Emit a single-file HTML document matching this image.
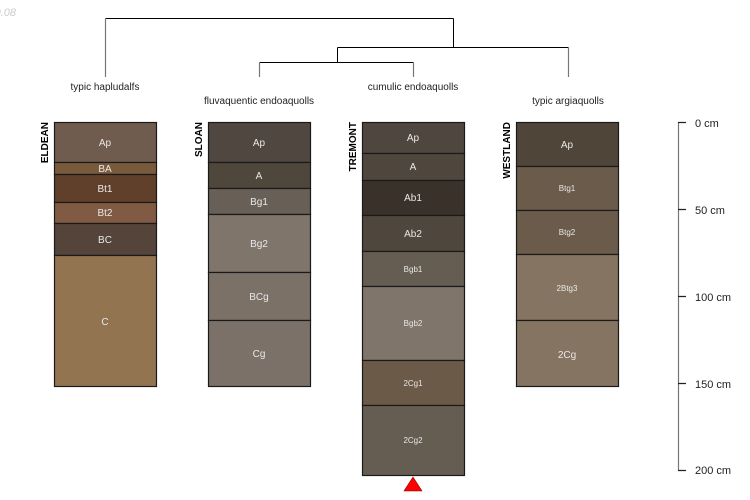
<!DOCTYPE html>
<html><head><meta charset="utf-8"><style>
html,body{margin:0;padding:0;background:#fff;}
svg{display:block;font-family:"Liberation Sans",sans-serif;}
</style></head><body>
<svg width="750" height="500" viewBox="0 0 750 500" xmlns="http://www.w3.org/2000/svg">
<text x="16" y="16" text-anchor="end" font-size="11" font-style="italic" fill="#ccc">0.08</text>
<!-- dendrogram -->
<g stroke="#000" stroke-width="1" fill="none">
<path d="M105.5 18.5H453.5"/><path d="M337.5 47.5H568.5"/><path d="M259.5 62.5H413.5"/>
<path d="M453.5 18.5V47.5"/><path d="M337.5 47.5V62.5"/>
</g>
<g stroke="#777" stroke-width="1.2" fill="none">
<path d="M105.5 18.5V77"/><path d="M568.5 47.5V77"/><path d="M259.5 62.5V77"/><path d="M413.5 62.5V77"/>
</g>
<g font-size="10" fill="#222" text-anchor="middle">
<text x="105" y="90">typic hapludalfs</text>
<text x="259" y="104">fluvaquentic endoaquolls</text>
<text x="413" y="90">cumulic endoaquolls</text>
<text x="568" y="104">typic argiaquolls</text>
</g>
<!-- profile names -->
<g font-size="10" font-weight="bold" fill="#000" text-anchor="end">
<text transform="translate(48,122) rotate(-90)">ELDEAN</text>
<text transform="translate(202,122) rotate(-90)">SLOAN</text>
<text transform="translate(356,122) rotate(-90)">TREMONT</text>
<text transform="translate(510,122) rotate(-90)">WESTLAND</text>
</g>
<g stroke="#1a1a1a" stroke-width="1.2">
<!-- Eldean -->
<rect x="54.5" y="122.5" width="102" height="40" fill="#6f5c4e"/>
<rect x="54.5" y="162.5" width="102" height="12" fill="#7a5a3c"/>
<rect x="54.5" y="174.5" width="102" height="28" fill="#603f2b"/>
<rect x="54.5" y="202.5" width="102" height="21" fill="#805a43"/>
<rect x="54.5" y="223.5" width="102" height="32" fill="#54443a"/>
<rect x="54.5" y="255.5" width="102" height="131" fill="#937450"/>
<!-- Sloan -->
<rect x="208.5" y="122.5" width="102" height="40" fill="#4f4740"/>
<rect x="208.5" y="162.5" width="102" height="26" fill="#4f463c"/>
<rect x="208.5" y="188.5" width="102" height="26" fill="#686056"/>
<rect x="208.5" y="214.5" width="102" height="58" fill="#7f756b"/>
<rect x="208.5" y="272.5" width="102" height="48" fill="#7b7167"/>
<rect x="208.5" y="320.5" width="102" height="66" fill="#7b7168"/>
<!-- Tremont -->
<rect x="362.5" y="122.5" width="102" height="31" fill="#4f473f"/>
<rect x="362.5" y="153.5" width="102" height="27" fill="#4f463d"/>
<rect x="362.5" y="180.5" width="102" height="35" fill="#3a312b"/>
<rect x="362.5" y="215.5" width="102" height="36" fill="#4f463d"/>
<rect x="362.5" y="251.5" width="102" height="35" fill="#655d52"/>
<rect x="362.5" y="286.5" width="102" height="74" fill="#7f756b"/>
<rect x="362.5" y="360.5" width="102" height="45" fill="#6b5a48"/>
<rect x="362.5" y="405.5" width="102" height="70" fill="#655d52"/>
<!-- Westland -->
<rect x="516.5" y="122.5" width="102" height="44" fill="#4f4538"/>
<rect x="516.5" y="166.5" width="102" height="44" fill="#6b5b4b"/>
<rect x="516.5" y="210.5" width="102" height="44" fill="#6b5b4b"/>
<rect x="516.5" y="254.5" width="102" height="66" fill="#857462"/>
<rect x="516.5" y="320.5" width="102" height="66" fill="#857462"/>
</g>
<polygon points="413,477 404,491 422,491" fill="#f00" stroke="#800" stroke-width="0.6"/>
<g fill="#e8e8e8" text-anchor="middle" font-size="10">
<text x="105" y="146">Ap</text><text x="105" y="172">BA</text><text x="105" y="192">Bt1</text>
<text x="105" y="216">Bt2</text><text x="105" y="243">BC</text><text x="105" y="325">C</text>
<text x="259" y="146">Ap</text><text x="259" y="179">A</text><text x="259" y="205">Bg1</text>
<text x="259" y="247">Bg2</text><text x="259" y="300">BCg</text><text x="259" y="357">Cg</text>
<text x="413" y="141">Ap</text><text x="413" y="170">A</text><text x="413" y="201">Ab1</text>
<text x="413" y="237">Ab2</text>
<text x="413" y="272" font-size="8">Bgb1</text><text x="413" y="326" font-size="8">Bgb2</text>
<text x="413" y="386" font-size="8">2Cg1</text><text x="413" y="443" font-size="8">2Cg2</text>
<text x="567" y="148">Ap</text>
<text x="567" y="191" font-size="8">Btg1</text><text x="567" y="235" font-size="8">Btg2</text>
<text x="567" y="291" font-size="8">2Btg3</text><text x="567" y="358">2Cg</text>
</g>
<!-- depth scale -->
<g stroke="#777" stroke-width="1.2" fill="none">
<path d="M678.5 122V470"/>
<path d="M678 122.5H686M678 209.5H686M678 296.5H686M678 383.5H686M678 470.5H686" stroke="#222"/>
</g>
<g font-size="11" fill="#222">
<text x="695" y="127">0 cm</text><text x="695" y="214">50 cm</text>
<text x="695" y="301">100 cm</text><text x="695" y="388">150 cm</text><text x="695" y="474">200 cm</text>
</g>
</svg>
</body></html>
